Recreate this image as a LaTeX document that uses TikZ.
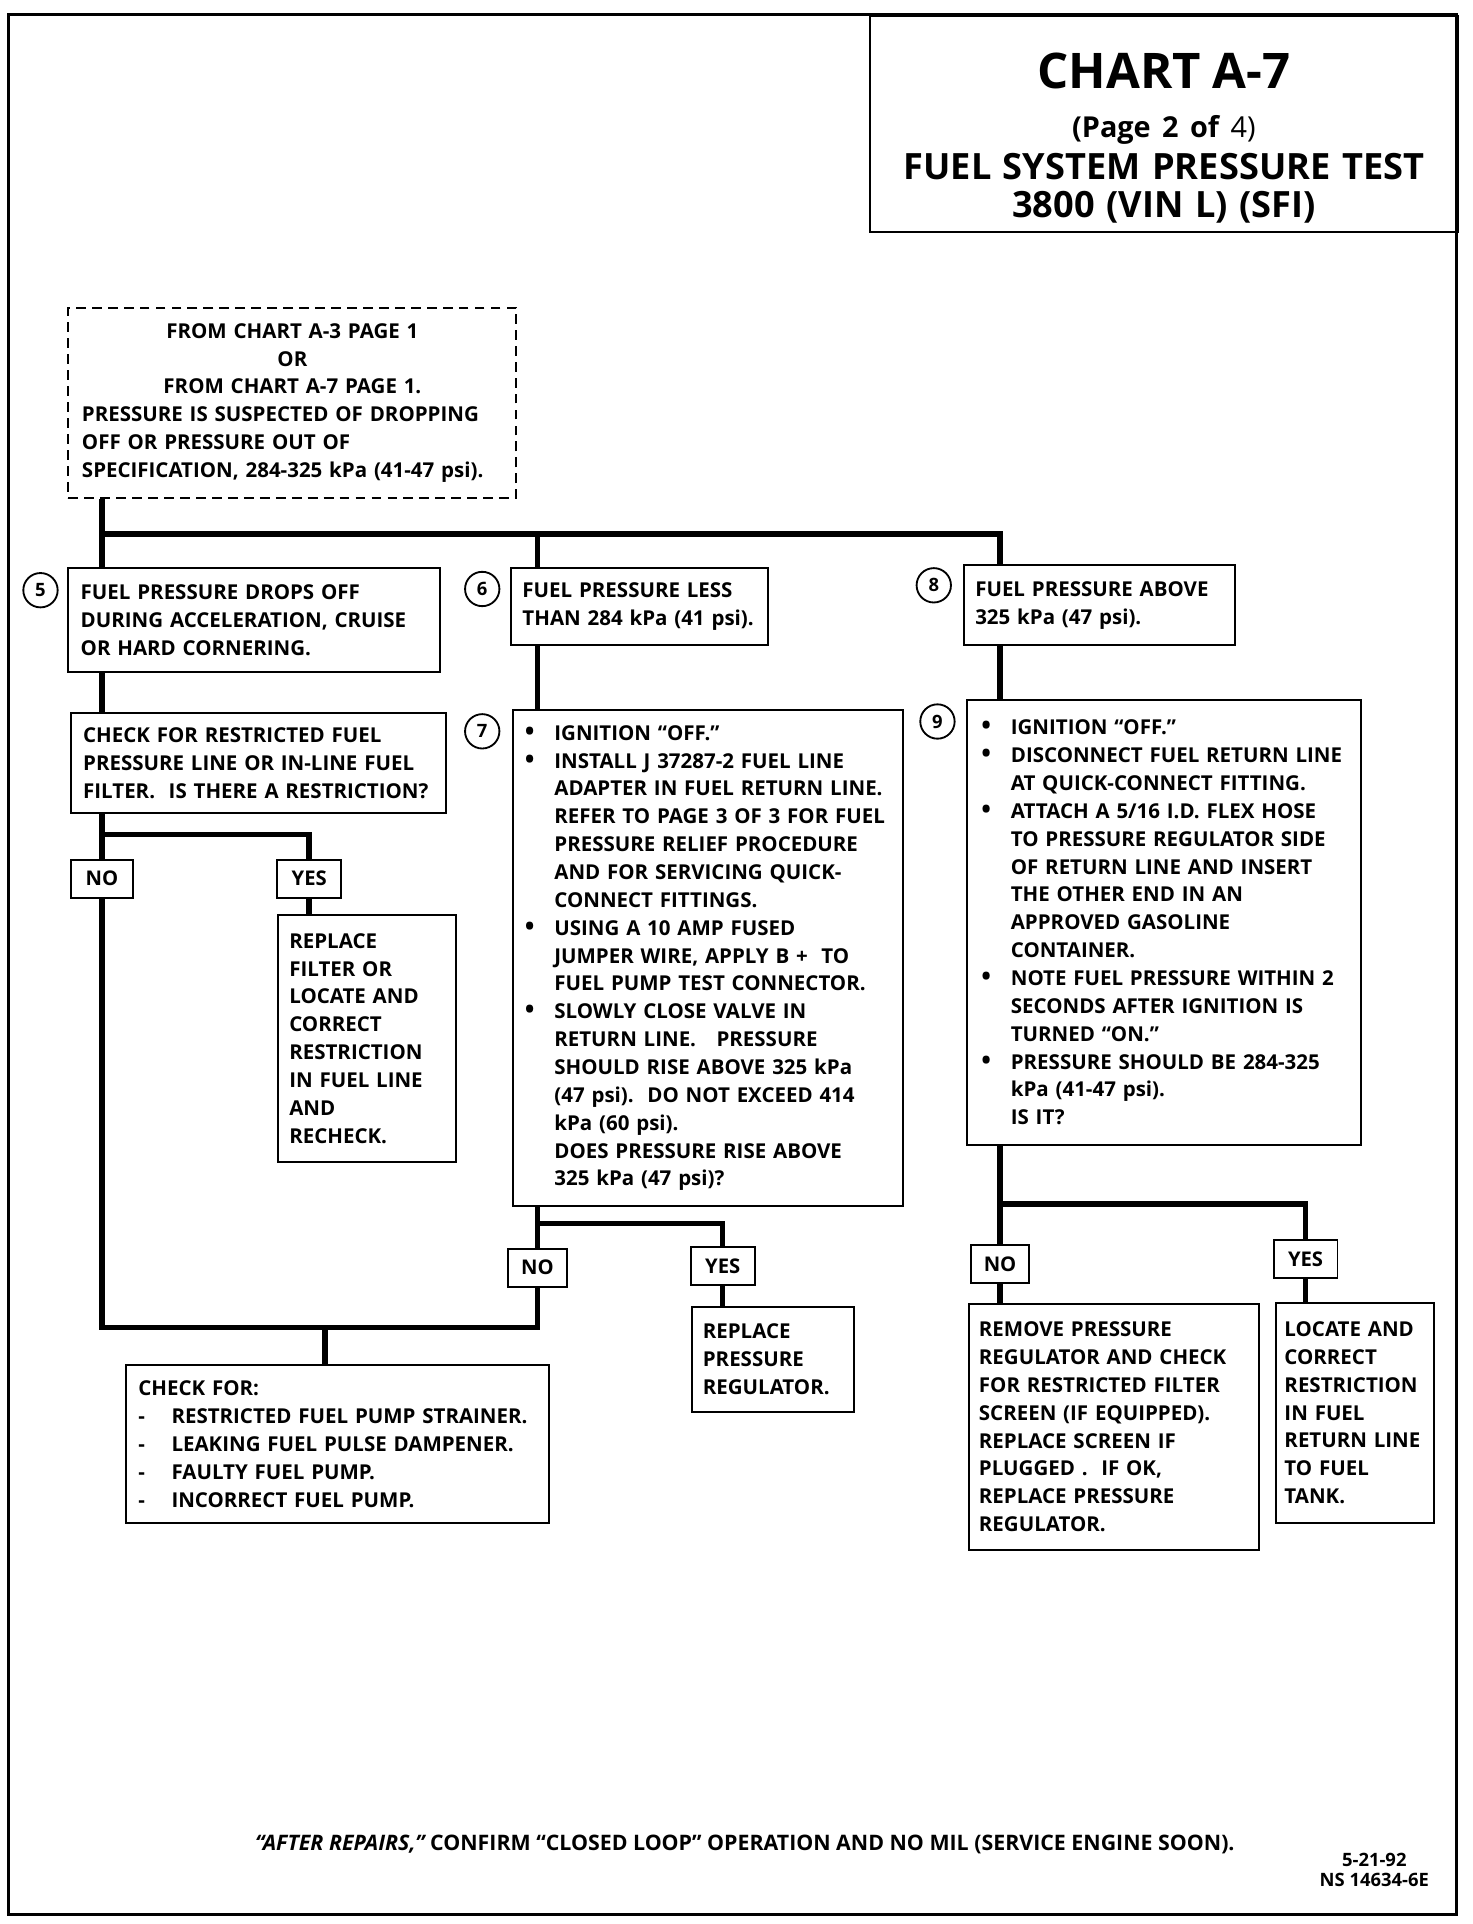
\documentclass[tikz,border=0pt]{standalone}
\usepackage{fontspec}
\setmainfont{Open Sans}
\usetikzlibrary{positioning}

\newcommand{\bul}{\makebox[24pt][l]{\fontsize{21}{0}\selectfont\textbullet}}
\newcommand{\ind}{\hspace*{24pt}}
\newcommand{\dsh}{\makebox[27pt][l]{-}}

\tikzset{
  box/.style={draw, line width=1.6pt, anchor=north west, align=left,
    inner xsep=10pt, inner ysep=0pt,
    font=\bfseries\fontsize{16.7}{22.7}\selectfont},
  answer/.style={draw, line width=1.6pt, inner sep=0pt, minimum height=31pt,
    font=\bfseries\fontsize{16.5}{20}\selectfont},
  stepnum/.style={circle, draw, line width=1.5pt, minimum size=28pt, inner sep=0pt,
    font=\bfseries\fontsize{15}{15}\selectfont},
  link/.style={line width=4.5pt},
}

\begin{document}
\begin{tikzpicture}[x=1pt,y=-1pt]
\useasboundingbox (0,0) rectangle (1200,1568);
% page frame
\draw[line width=2.5pt] (7,12) rectangle (1187,1560);

% title
\node[draw, line width=2pt, anchor=north west, minimum width=479pt, minimum height=176pt,
  text width=470pt, align=center, inner sep=0pt, font=\bfseries\fontsize{28}{34}\selectfont] (title) at (708,12)
  {{\fontsize{40}{44}\selectfont \rule{0pt}{52pt}CHART A-7\par}
   {\fontsize{23.5}{40}\selectfont (Page 2 of {\mdseries 4)}\par}
   {\fontsize{29.5}{34}\selectfont FUEL SYSTEM PRESSURE TEST\par}
   {\fontsize{29.5}{31}\selectfont 3800 (VIN L) (SFI)\par}};

% entry
\node[box, dashed, dash pattern=on 8pt off 5pt, inner xsep=11pt, text width=343pt,
  minimum height=155pt] (start) at (55,250)
  {\makebox[343pt][c]{FROM CHART A-3 PAGE 1}\\
   \makebox[343pt][c]{OR}\\
   \makebox[343pt][c]{FROM CHART A-7 PAGE 1.}\\
   PRESSURE IS SUSPECTED OF DROPPING\\
   OFF OR PRESSURE OUT OF\\
   SPECIFICATION, 284-325 kPa (41-47 psi).};

% left branch
\node[stepnum] (c5) at (33,481) {5};
\node[box, text width=283pt, minimum height=85pt] (b5) at (55,462)
  {FUEL PRESSURE DROPS OFF\\
   DURING ACCELERATION, CRUISE\\
   OR HARD CORNERING.};
\node[box, text width=286pt, minimum height=82pt] (chk) at (57,580)
  {CHECK FOR RESTRICTED FUEL\\
   PRESSURE LINE OR IN-LINE FUEL\\
   FILTER.\ \ IS THERE A RESTRICTION?};
\node[answer, minimum width=50pt] (no1) at (83,716) {NO};
\node[answer, minimum width=52pt] (yes1) at (252,716) {YES};
\node[box, inner xsep=9pt, text width=127pt, minimum height=201pt] (rep1) at (226,745)
  {REPLACE\\ FILTER OR\\ LOCATE AND\\ CORRECT\\ RESTRICTION\\ IN FUEL LINE\\ AND\\ RECHECK.};

% middle branch
\node[stepnum] (c6) at (393,480) {6};
\node[box, inner xsep=9pt, text width=191pt, minimum height=63pt] (b6) at (416,462)
  {FUEL PRESSURE LESS\\ THAN 284 kPa (41 psi).};
\node[stepnum] (c7) at (393,596) {7};
\node[box, text width=298pt, minimum height=404pt] (b7) at (417,578)
  {\bul IGNITION “OFF.”\\
   \bul INSTALL J 37287-2 FUEL LINE\\
   \ind ADAPTER IN FUEL RETURN LINE.\\
   \ind REFER TO PAGE 3 OF 3 FOR FUEL\\
   \ind PRESSURE RELIEF PROCEDURE\\
   \ind AND FOR SERVICING QUICK-\\
   \ind CONNECT FITTINGS.\\
   \bul USING A 10 AMP FUSED\\
   \ind JUMPER WIRE, APPLY B + \ TO\\
   \ind FUEL PUMP TEST CONNECTOR.\\
   \bul SLOWLY CLOSE VALVE IN\\
   \ind RETURN LINE.\ \ \ PRESSURE\\
   \ind SHOULD RISE ABOVE 325 kPa\\
   \ind (47 psi).\ \ DO NOT EXCEED 414\\
   \ind kPa (60 psi).\\
   \ind DOES PRESSURE RISE ABOVE\\
   \ind 325 kPa (47 psi)?};
\node[answer, minimum width=48pt] (no2) at (438,1033) {NO};
\node[answer, minimum width=52pt] (yes2) at (589,1032) {YES};
\node[box, inner xsep=9pt, text width=114pt, minimum height=86pt] (rep2) at (563,1064)
  {REPLACE\\ PRESSURE\\ REGULATOR.};
\node[box, text width=325pt, minimum height=128pt] (chkfor) at (102,1112)
  {CHECK FOR:\\
   \dsh RESTRICTED FUEL PUMP STRAINER.\\
   \dsh LEAKING FUEL PULSE DAMPENER.\\
   \dsh FAULTY FUEL PUMP.\\
   \dsh INCORRECT FUEL PUMP.};

% right branch
\node[stepnum] (c8) at (761,477) {8};
\node[box, inner xsep=9pt, text width=203pt, minimum height=65pt] (b8) at (785,460)
  {FUEL PRESSURE ABOVE\\ 325 kPa (47 psi).};
\node[stepnum] (c9) at (764,588) {9};
\node[box, inner xsep=12pt, text width=297pt, minimum height=362pt] (b9) at (787,570)
  {\bul IGNITION “OFF.”\\
   \bul DISCONNECT FUEL RETURN LINE\\
   \ind AT QUICK-CONNECT FITTING.\\
   \bul ATTACH A 5/16 I.D. FLEX HOSE\\
   \ind TO PRESSURE REGULATOR SIDE\\
   \ind OF RETURN LINE AND INSERT\\
   \ind THE OTHER END IN AN\\
   \ind APPROVED GASOLINE\\
   \ind CONTAINER.\\
   \bul NOTE FUEL PRESSURE WITHIN 2\\
   \ind SECONDS AFTER IGNITION IS\\
   \ind TURNED “ON.”\\
   \bul PRESSURE SHOULD BE 284-325\\
   \ind kPa (41-47 psi).\\
   \ind IS IT?};
\node[answer, minimum width=47pt] (no3) at (815,1030) {NO};
\node[answer, minimum width=52pt] (yes3) at (1064,1026) {YES};
\node[box, inner xsep=8pt, text width=220pt, minimum height=200pt] (rem) at (789,1062)
  {REMOVE PRESSURE\\ REGULATOR AND CHECK\\ FOR RESTRICTED FILTER\\
   SCREEN (IF EQUIPPED).\\ REPLACE SCREEN IF\\ PLUGGED .\ \ IF OK,\\
   REPLACE PRESSURE\\ REGULATOR.};
\node[box, inner xsep=7pt, text width=115pt, minimum height=179pt] (loc) at (1039,1061)
  {LOCATE AND\\ CORRECT\\ RESTRICTION\\ IN FUEL\\ RETURN LINE\\ TO FUEL\\ TANK.};

% footer
\node[font=\bfseries\fontsize{17.4}{20}\selectfont] (foot) at (607,1503)
  {{\itshape “AFTER REPAIRS,”} CONFIRM “CLOSED LOOP” OPERATION AND NO MIL (SERVICE ENGINE SOON).};
\node[align=center, font=\bfseries\fontsize{15}{16}\selectfont] (code) at (1120,1524)
  {5-21-92\\ NS 14634-6E};

% connectors
\coordinate (tl) at (83,435);
\coordinate (tm) at (438,435);
\coordinate (tr) at (815,435);
\draw[link] (start.south -| tl) -- (tl |- b5.north);
\draw[link] (tl) -- (tr) -- (tr |- b8.north);
\draw[link] (tm) -- (tm |- b6.north);
\draw[link] (b5.south -| tl) -- (chk.north -| tl);
\draw[link] (chk.south -| no1) -- (no1.north);
\coordinate (jc) at (83,680);
\draw[link] (jc) -| (yes1.north);
\draw[link] (yes1.south) -- (yes1.south |- rep1.north);
\coordinate (jb) at (83,1082);
\draw[link] (no1.south) -- (jb) -- (jb -| no2) -- (no2.south);
\coordinate (jf) at (265,1082);
\draw[link] (jf) -- (jf |- chkfor.north);
\draw[link] (b6.south -| tm) -- (b7.north -| tm);
\draw[link] (b7.south -| no2) -- (no2.north);
\coordinate (j7) at (438,997);
\draw[link] (j7) -| (yes2.north);
\draw[link] (yes2.south) -- (yes2.south |- rep2.north);
\draw[link] (b8.south -| tr) -- (b9.north -| tr);
\draw[link] (b9.south -| no3) -- (no3.north);
\coordinate (j9) at (815,981);
\draw[link] (j9) -| (yes3.north);
\draw[link] (no3.south) -- (no3.south |- rem.north);
\draw[link] (yes3.south) -- (yes3.south |- loc.north);
\end{tikzpicture}
\end{document}
